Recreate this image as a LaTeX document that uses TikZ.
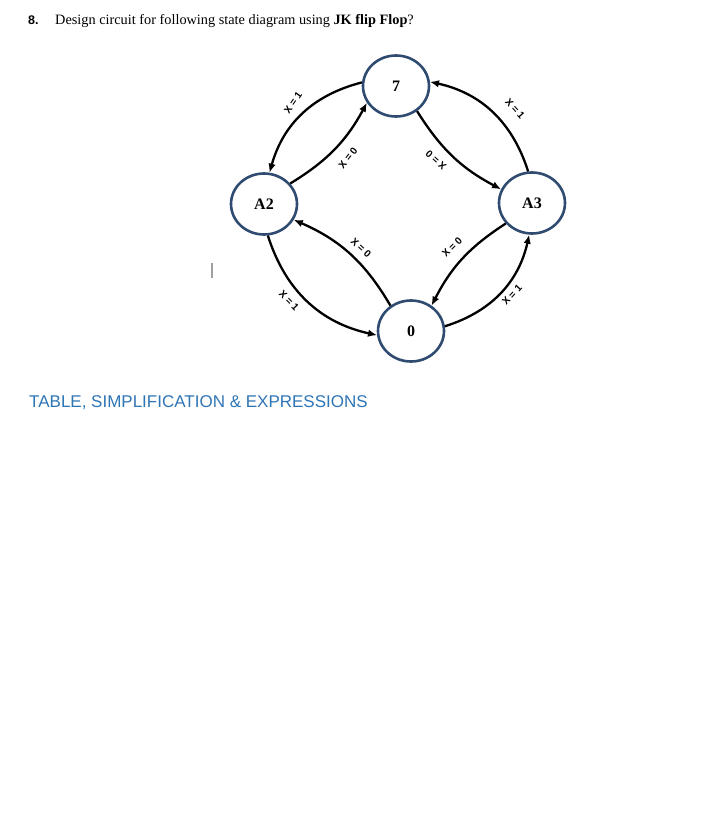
\documentclass[tikz,border=0pt]{standalone}
\usepackage{fontspec}
\setmainfont{Liberation Serif}
\setsansfont{Liberation Sans}
\usetikzlibrary{shapes.geometric,arrows.meta}
\definecolor{navy}{HTML}{2F4B70}
\definecolor{hblue}{HTML}{2E75B6}
\definecolor{cursorgray}{HTML}{A0A0A0}
\begin{document}
\begin{tikzpicture}[x=1pt,y=-1pt,
 state/.style={ellipse,draw=navy,line width=2.6pt,minimum width=66pt,minimum height=61pt,inner sep=0pt,font=\fontsize{16}{16}\selectfont\bfseries},
 trans/.style={-{Latex[length=9pt,width=7.5pt]},line width=2.3pt},
 lab/.style={font=\fontsize{10}{10}\selectfont\sffamily\bfseries,inner sep=0pt}]
\useasboundingbox (0,0) rectangle (707,814);

\node[anchor=base west,inner sep=0pt,font=\fontsize{12.5}{12.5}\selectfont\sffamily\bfseries] (num) at (28,24) {8.};
\node[anchor=base west,inner sep=0pt,font=\fontsize{14.3}{14.3}\selectfont] (title) at (55,24) {Design circuit for following state diagram using \textbf{JK flip Flop}?};

\node[state] (s7) at (396,86) {7};
\node[state] (sA2) at (264,204) {A2};
\node[state] (sA3) at (532,203) {A3};
\node[state] (s0) at (411,331) {0};

\draw[trans] (s7.174) to[bend right=30] (sA2.80);
\draw[trans] (sA2.38) to[bend right=15] (s7.210);
\draw[trans] (s7.310) to[bend right=15] (sA3.156);
\draw[trans] (sA3.97) to[bend right=30] (s7.7);
\draw[trans] (sA3.218) to[bend right=15] (s0.51);
\draw[trans] (s0.8) to[bend right=30] (sA3.265);
\draw[trans] (s0.129) to[bend right=18] (sA2.332);
\draw[trans] (sA2.277) to[bend right=30] (s0.187);

\node[lab,rotate=55] (l1) at (293,103) {X = 1};
\node[lab,rotate=52] (l2) at (348,158) {X = 0};
\node[lab,rotate=138] (l3) at (436,160) {X = 0};
\node[lab,rotate=-48] (l4) at (515,109) {X = 1};
\node[lab,rotate=45] (l5) at (452,247) {X = 0};
\node[lab,rotate=47] (l6) at (512,295) {X = 1};
\node[lab,rotate=-43] (l7) at (361,248) {X = 0};
\node[lab,rotate=-46] (l8) at (289,301) {X = 1};

\coordinate (c1) at (212,263);
\coordinate (c2) at (212,278);
\draw[cursorgray,line width=1.3pt] (c1) -- (c2);

\node[anchor=base west,inner sep=0pt,text=hblue,font=\fontsize{17}{17}\selectfont\sffamily] (tbl) at (29,407) {TABLE, SIMPLIFICATION \& EXPRESSIONS};
\end{tikzpicture}
\end{document}
